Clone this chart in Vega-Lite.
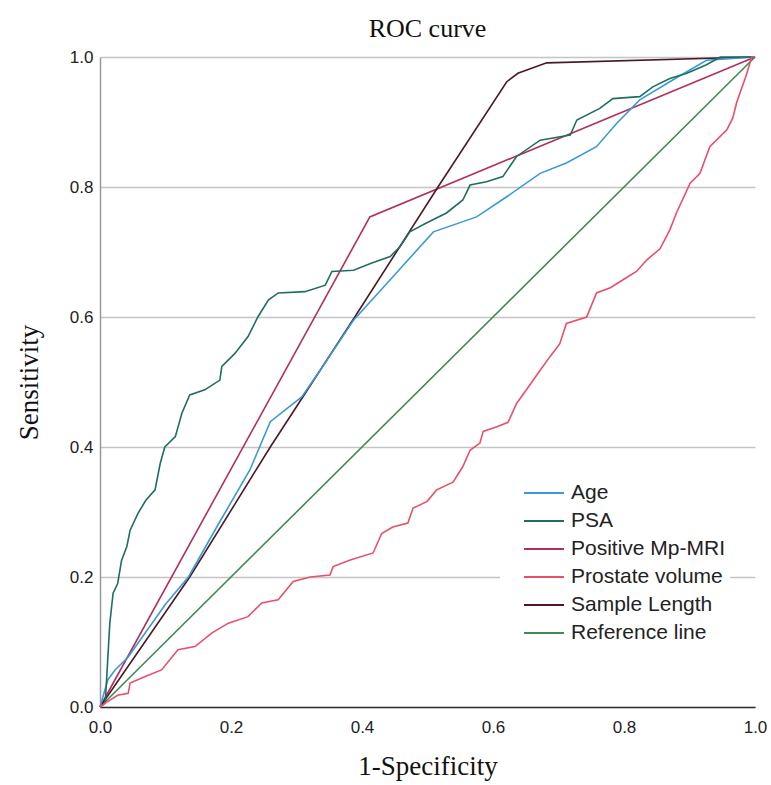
{
  "$schema": "https://vega.github.io/schema/vega-lite/v6.json",
  "width": 655,
  "height": 650,
  "autosize": "none",
  "padding": {"left": 100, "top": 57, "right": 16, "bottom": 78},
  "background": "white",
  "config": {"view": {"stroke": null}},
  "title": {"text": "ROC curve", "font": "Liberation Serif", "fontSize": 26, "fontWeight": "normal", "color": "#111", "anchor": "middle", "frame": "group", "baseline": "bottom", "offset": 6, "dy": 26},
  "data": {"values": [
    {"series": "Reference line", "fpr": 0, "tpr": 0},
    {"series": "Reference line", "fpr": 1, "tpr": 1},
    {"series": "Positive Mp-MRI", "fpr": 0, "tpr": 0},
    {"series": "Positive Mp-MRI", "fpr": 0.412, "tpr": 0.754},
    {"series": "Positive Mp-MRI", "fpr": 1, "tpr": 1},
    {"series": "Sample Length", "fpr": 0, "tpr": 0},
    {"series": "Sample Length", "fpr": 0.137, "tpr": 0.2},
    {"series": "Sample Length", "fpr": 0.26, "tpr": 0.4},
    {"series": "Sample Length", "fpr": 0.389, "tpr": 0.6},
    {"series": "Sample Length", "fpr": 0.516, "tpr": 0.8},
    {"series": "Sample Length", "fpr": 0.621, "tpr": 0.962},
    {"series": "Sample Length", "fpr": 0.638, "tpr": 0.975},
    {"series": "Sample Length", "fpr": 0.682, "tpr": 0.991},
    {"series": "Sample Length", "fpr": 1, "tpr": 1},
    {"series": "Age", "fpr": 0, "tpr": 0},
    {"series": "Age", "fpr": 0.012, "tpr": 0.042},
    {"series": "Age", "fpr": 0.023, "tpr": 0.057},
    {"series": "Age", "fpr": 0.043, "tpr": 0.077},
    {"series": "Age", "fpr": 0.1, "tpr": 0.158},
    {"series": "Age", "fpr": 0.135, "tpr": 0.2},
    {"series": "Age", "fpr": 0.18, "tpr": 0.28},
    {"series": "Age", "fpr": 0.229, "tpr": 0.365},
    {"series": "Age", "fpr": 0.26, "tpr": 0.439},
    {"series": "Age", "fpr": 0.308, "tpr": 0.477},
    {"series": "Age", "fpr": 0.338, "tpr": 0.521},
    {"series": "Age", "fpr": 0.387, "tpr": 0.595},
    {"series": "Age", "fpr": 0.45, "tpr": 0.665},
    {"series": "Age", "fpr": 0.509, "tpr": 0.731},
    {"series": "Age", "fpr": 0.575, "tpr": 0.754},
    {"series": "Age", "fpr": 0.621, "tpr": 0.785},
    {"series": "Age", "fpr": 0.672, "tpr": 0.821},
    {"series": "Age", "fpr": 0.712, "tpr": 0.837},
    {"series": "Age", "fpr": 0.758, "tpr": 0.862},
    {"series": "Age", "fpr": 0.789, "tpr": 0.898},
    {"series": "Age", "fpr": 0.824, "tpr": 0.934},
    {"series": "Age", "fpr": 0.875, "tpr": 0.965},
    {"series": "Age", "fpr": 0.926, "tpr": 0.995},
    {"series": "Age", "fpr": 1, "tpr": 1},
    {"series": "PSA", "fpr": 0, "tpr": 0},
    {"series": "PSA", "fpr": 0.008, "tpr": 0.006},
    {"series": "PSA", "fpr": 0.015, "tpr": 0.129},
    {"series": "PSA", "fpr": 0.02, "tpr": 0.175},
    {"series": "PSA", "fpr": 0.027, "tpr": 0.19},
    {"series": "PSA", "fpr": 0.033, "tpr": 0.226},
    {"series": "PSA", "fpr": 0.041, "tpr": 0.247},
    {"series": "PSA", "fpr": 0.046, "tpr": 0.272},
    {"series": "PSA", "fpr": 0.058, "tpr": 0.298},
    {"series": "PSA", "fpr": 0.07, "tpr": 0.318},
    {"series": "PSA", "fpr": 0.084, "tpr": 0.334},
    {"series": "PSA", "fpr": 0.092, "tpr": 0.375},
    {"series": "PSA", "fpr": 0.099, "tpr": 0.4},
    {"series": "PSA", "fpr": 0.115, "tpr": 0.416},
    {"series": "PSA", "fpr": 0.125, "tpr": 0.452},
    {"series": "PSA", "fpr": 0.137, "tpr": 0.48},
    {"series": "PSA", "fpr": 0.16, "tpr": 0.488},
    {"series": "PSA", "fpr": 0.183, "tpr": 0.503},
    {"series": "PSA", "fpr": 0.186, "tpr": 0.524},
    {"series": "PSA", "fpr": 0.206, "tpr": 0.544},
    {"series": "PSA", "fpr": 0.226, "tpr": 0.57},
    {"series": "PSA", "fpr": 0.241, "tpr": 0.6},
    {"series": "PSA", "fpr": 0.257, "tpr": 0.626},
    {"series": "PSA", "fpr": 0.272, "tpr": 0.637},
    {"series": "PSA", "fpr": 0.313, "tpr": 0.639},
    {"series": "PSA", "fpr": 0.344, "tpr": 0.649},
    {"series": "PSA", "fpr": 0.354, "tpr": 0.67},
    {"series": "PSA", "fpr": 0.387, "tpr": 0.672},
    {"series": "PSA", "fpr": 0.415, "tpr": 0.683},
    {"series": "PSA", "fpr": 0.443, "tpr": 0.693},
    {"series": "PSA", "fpr": 0.458, "tpr": 0.708},
    {"series": "PSA", "fpr": 0.473, "tpr": 0.731},
    {"series": "PSA", "fpr": 0.499, "tpr": 0.745},
    {"series": "PSA", "fpr": 0.529, "tpr": 0.76},
    {"series": "PSA", "fpr": 0.554, "tpr": 0.78},
    {"series": "PSA", "fpr": 0.565, "tpr": 0.803},
    {"series": "PSA", "fpr": 0.59, "tpr": 0.808},
    {"series": "PSA", "fpr": 0.615, "tpr": 0.816},
    {"series": "PSA", "fpr": 0.636, "tpr": 0.847},
    {"series": "PSA", "fpr": 0.672, "tpr": 0.872},
    {"series": "PSA", "fpr": 0.718, "tpr": 0.88},
    {"series": "PSA", "fpr": 0.728, "tpr": 0.903},
    {"series": "PSA", "fpr": 0.763, "tpr": 0.921},
    {"series": "PSA", "fpr": 0.783, "tpr": 0.936},
    {"series": "PSA", "fpr": 0.824, "tpr": 0.939},
    {"series": "PSA", "fpr": 0.844, "tpr": 0.954},
    {"series": "PSA", "fpr": 0.87, "tpr": 0.967},
    {"series": "PSA", "fpr": 0.896, "tpr": 0.975},
    {"series": "PSA", "fpr": 0.926, "tpr": 0.988},
    {"series": "PSA", "fpr": 0.947, "tpr": 1.0},
    {"series": "PSA", "fpr": 1, "tpr": 1},
    {"series": "Prostate volume", "fpr": 0, "tpr": 0},
    {"series": "Prostate volume", "fpr": 0.008, "tpr": 0.006},
    {"series": "Prostate volume", "fpr": 0.027, "tpr": 0.018},
    {"series": "Prostate volume", "fpr": 0.043, "tpr": 0.021},
    {"series": "Prostate volume", "fpr": 0.046, "tpr": 0.037},
    {"series": "Prostate volume", "fpr": 0.069, "tpr": 0.047},
    {"series": "Prostate volume", "fpr": 0.094, "tpr": 0.057},
    {"series": "Prostate volume", "fpr": 0.119, "tpr": 0.088},
    {"series": "Prostate volume", "fpr": 0.145, "tpr": 0.093},
    {"series": "Prostate volume", "fpr": 0.171, "tpr": 0.114},
    {"series": "Prostate volume", "fpr": 0.196, "tpr": 0.129},
    {"series": "Prostate volume", "fpr": 0.226, "tpr": 0.139},
    {"series": "Prostate volume", "fpr": 0.247, "tpr": 0.16},
    {"series": "Prostate volume", "fpr": 0.272, "tpr": 0.165},
    {"series": "Prostate volume", "fpr": 0.295, "tpr": 0.193},
    {"series": "Prostate volume", "fpr": 0.321, "tpr": 0.2},
    {"series": "Prostate volume", "fpr": 0.351, "tpr": 0.203},
    {"series": "Prostate volume", "fpr": 0.356, "tpr": 0.216},
    {"series": "Prostate volume", "fpr": 0.382, "tpr": 0.226},
    {"series": "Prostate volume", "fpr": 0.417, "tpr": 0.237},
    {"series": "Prostate volume", "fpr": 0.43, "tpr": 0.267},
    {"series": "Prostate volume", "fpr": 0.447, "tpr": 0.277},
    {"series": "Prostate volume", "fpr": 0.47, "tpr": 0.283},
    {"series": "Prostate volume", "fpr": 0.478, "tpr": 0.306},
    {"series": "Prostate volume", "fpr": 0.499, "tpr": 0.316},
    {"series": "Prostate volume", "fpr": 0.514, "tpr": 0.334},
    {"series": "Prostate volume", "fpr": 0.539, "tpr": 0.346},
    {"series": "Prostate volume", "fpr": 0.554, "tpr": 0.37},
    {"series": "Prostate volume", "fpr": 0.565, "tpr": 0.395},
    {"series": "Prostate volume", "fpr": 0.58, "tpr": 0.406},
    {"series": "Prostate volume", "fpr": 0.585, "tpr": 0.424},
    {"series": "Prostate volume", "fpr": 0.606, "tpr": 0.431},
    {"series": "Prostate volume", "fpr": 0.623, "tpr": 0.438},
    {"series": "Prostate volume", "fpr": 0.636, "tpr": 0.467},
    {"series": "Prostate volume", "fpr": 0.651, "tpr": 0.488},
    {"series": "Prostate volume", "fpr": 0.672, "tpr": 0.518},
    {"series": "Prostate volume", "fpr": 0.687, "tpr": 0.539},
    {"series": "Prostate volume", "fpr": 0.702, "tpr": 0.559},
    {"series": "Prostate volume", "fpr": 0.712, "tpr": 0.59},
    {"series": "Prostate volume", "fpr": 0.743, "tpr": 0.6},
    {"series": "Prostate volume", "fpr": 0.758, "tpr": 0.637},
    {"series": "Prostate volume", "fpr": 0.779, "tpr": 0.645},
    {"series": "Prostate volume", "fpr": 0.798, "tpr": 0.657},
    {"series": "Prostate volume", "fpr": 0.819, "tpr": 0.67},
    {"series": "Prostate volume", "fpr": 0.835, "tpr": 0.688},
    {"series": "Prostate volume", "fpr": 0.855, "tpr": 0.705},
    {"series": "Prostate volume", "fpr": 0.87, "tpr": 0.734},
    {"series": "Prostate volume", "fpr": 0.88, "tpr": 0.76},
    {"series": "Prostate volume", "fpr": 0.901, "tpr": 0.806},
    {"series": "Prostate volume", "fpr": 0.916, "tpr": 0.821},
    {"series": "Prostate volume", "fpr": 0.931, "tpr": 0.862},
    {"series": "Prostate volume", "fpr": 0.957, "tpr": 0.888},
    {"series": "Prostate volume", "fpr": 0.966, "tpr": 0.906},
    {"series": "Prostate volume", "fpr": 0.972, "tpr": 0.93},
    {"series": "Prostate volume", "fpr": 0.986, "tpr": 0.97},
    {"series": "Prostate volume", "fpr": 0.995, "tpr": 1.0},
    {"series": "Prostate volume", "fpr": 1, "tpr": 1}
  ]},
  "mark": {"type": "line", "strokeWidth": 1.6, "interpolate": "linear"},
  "encoding": {
    "x": {"field": "fpr", "type": "quantitative",
      "scale": {"domain": [0, 1], "nice": false, "zero": false},
      "axis": {"title": "1-Specificity", "values": [0, 0.2, 0.4, 0.6, 0.8, 1], "format": ".1f",
        "grid": false, "ticks": false, "domainColor": "#333", "domainWidth": 1.5,
        "labelFont": "Liberation Sans", "labelFontSize": 17, "labelColor": "#222", "labelPadding": 12,
        "labelFlush": false,
        "titleFont": "Liberation Serif", "titleFontSize": 27, "titleFontWeight": "normal", "titleColor": "#111", "titlePadding": 18}},
    "y": {"field": "tpr", "type": "quantitative",
      "scale": {"domain": [0, 1], "nice": false, "zero": false},
      "axis": {"title": "Sensitivity", "values": [0, 0.2, 0.4, 0.6, 0.8, 1], "format": ".1f",
        "grid": true, "gridColor": "#c4c4c4", "gridWidth": 1.5, "ticks": false, "domainColor": "#999", "domainWidth": 1.5,
        "labelFont": "Liberation Sans", "labelFontSize": 17, "labelColor": "#222", "labelPadding": 7,
        "labelFlush": false,
        "titleFont": "Liberation Serif", "titleFontSize": 27, "titleFontWeight": "normal", "titleColor": "#111", "titlePadding": 26}},
    "color": {"field": "series", "type": "nominal",
      "scale": {"domain": ["Age", "PSA", "Positive Mp-MRI", "Prostate volume", "Sample Length", "Reference line"],
        "range": ["#3b9ad6", "#1e6e64", "#b0305a", "#e8506a", "#4a1a24", "#3f8a55"]},
      "legend": {"title": null, "orient": "none", "legendX": 400, "legendY": 421,
        "fillColor": "white", "padding": 4, "symbolType": "M-2,0H2", "symbolSize": 400, "symbolStrokeWidth": 2,
        "symbolOffset": 29, "labelOffset": 16, "rowPadding": 7,
        "labelFont": "Liberation Sans", "labelFontSize": 21, "labelColor": "#222"}}
  }
}
